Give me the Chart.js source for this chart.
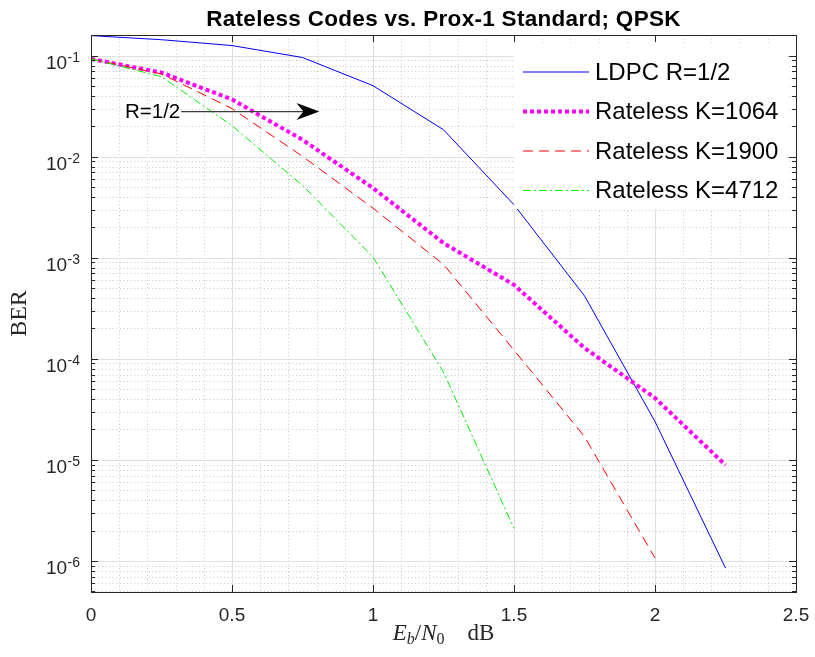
<!DOCTYPE html>
<html><head><meta charset="utf-8">
<script src="https://cdn.jsdelivr.net/npm/chart.js@4.4.0/dist/chart.umd.min.js"></script>
<style>html,body{margin:0;padding:0;background:#fff;}canvas{display:block}</style>
</head><body>
<canvas id="c" width="815" height="657"></canvas>
<script>
// ---------- data ----------
const ebn0 = [0, 0.25, 0.5, 0.75, 1, 1.25, 1.5, 1.75, 2, 2.25];
const berLDPC  = [0.158, 0.144, 0.126, 0.096, 0.0505, 0.0185, 0.00335, 4.2e-4, 2.4e-5, 8.5e-7];
const berK1064 = [0.093, 0.068, 0.037, 0.0147, 0.0049, 0.0014, 5.4e-4, 1.28e-4, 4.1e-5, 8.9e-6];
const berK1900 = [0.093, 0.066, 0.030, 0.0101, 0.0031, 8.6e-4, 1.22e-4, 1.7e-5, 1.07e-6];
const berK4712 = [0.093, 0.062, 0.0203, 0.0052, 0.00102, 7.4e-5, 2.1e-6];
const seriesLabels = ['LDPC R=1/2', 'Rateless K=1064', 'Rateless K=1900', 'Rateless K=4712'];
const xTicks = [0, 0.5, 1, 1.5, 2, 2.5];
const xTickLabels = ['0', '0.5', '1', '1.5', '2', '2.5'];
const yTickExps = [-1, -2, -3, -4, -5, -6];
const titleText = 'Rateless Codes vs. Prox-1 Standard; QPSK';
const yAxisLabel = 'BER';
const annotText = 'R=1/2';
const annotStartX = 0.32, annotEndX = 0.81, annotY = 0.028;
const xMin = 0, xMax = 2.5, yMin = 4.93e-7, yMax = 0.1603;

const toPts = (ys) => ys.map((v, i) => ({x: ebn0[i], y: v}));

const matlabPlugin = {
  id: 'matlabAxes',
  beforeDatasetsDraw(chart) {
    const {ctx, chartArea: a, scales: {x, y}} = chart;
    const ln = (x0, y0, x1, y1) => { ctx.beginPath(); ctx.moveTo(x0, y0); ctx.lineTo(x1, y1); ctx.stroke(); };
    ctx.save();
    ctx.fillStyle = '#fff';
    ctx.fillRect(a.left, a.top, a.right - a.left, a.bottom - a.top);
    // minor grids (dotted)
    ctx.strokeStyle = '#c8c8c8'; ctx.lineWidth = 1; ctx.setLineDash([1, 2.6]);
    for (let i = 1; i < 25; i++) {
      if (i % 5 === 0) continue;
      const px = Math.round(x.getPixelForValue(i / 10)) + 0.5;
      ln(px, a.top, px, a.bottom);
    }
    for (let e = -7; e <= 0; e++) for (let m = 2; m <= 9; m++) {
      const v = m * Math.pow(10, e);
      if (v < yMin || v > yMax) continue;
      const py = Math.round(y.getPixelForValue(v)) + 0.5;
      ln(a.left, py, a.right, py);
    }
    // major grids
    ctx.setLineDash([]); ctx.strokeStyle = '#dfdfdf';
    xTicks.forEach(v => { const px = Math.round(x.getPixelForValue(v)) + 0.5; ln(px, a.top, px, a.bottom); });
    yTickExps.forEach(e => { const py = Math.round(y.getPixelForValue(Math.pow(10, e))) + 0.5; ln(a.left, py, a.right, py); });
    ctx.restore();
  },
  afterDatasetsDraw(chart) {
    const {ctx, chartArea: a, scales: {x, y}} = chart;
    const ln = (x0, y0, x1, y1) => { ctx.beginPath(); ctx.moveTo(x0, y0); ctx.lineTo(x1, y1); ctx.stroke(); };
    ctx.save();
    // legend
    const lx = a.right - 282, ly = a.top + 8, lw = 273, lh = 166;
    ctx.fillStyle = '#fff';
    ctx.fillRect(lx, ly, lw, lh);
    ctx.font = '24px "Liberation Sans", Arial, sans-serif';
    ctx.textBaseline = 'middle'; ctx.textAlign = 'left';
    chart.data.datasets.forEach((ds, i) => {
      const cy = ly + 29 + i * 39.5;
      ctx.save();
      ctx.strokeStyle = ds.borderColor; ctx.lineWidth = ds.borderWidth;
      ctx.setLineDash(ds.borderDash || []);
      ctx.lineCap = 'butt';
      ln(lx + 9, cy, lx + 75, cy);
      ctx.restore();
      ctx.fillStyle = '#000';
      ctx.fillText(ds.label, lx + 81, cy + 1);
    });
    // annotation
    const ax0 = x.getPixelForValue(annotStartX), ax1 = x.getPixelForValue(annotEndX), ay = y.getPixelForValue(annotY);
    ctx.strokeStyle = '#3c3c3c'; ctx.lineWidth = 1.3;
    ln(ax0, ay, ax1 - 14, ay);
    ctx.fillStyle = '#000';
    ctx.beginPath();
    ctx.moveTo(ax1, ay); ctx.lineTo(ax1 - 23, ay - 8.5); ctx.lineTo(ax1 - 16, ay); ctx.lineTo(ax1 - 23, ay + 8.5);
    ctx.closePath(); ctx.fill();
    ctx.font = '20.5px "Liberation Sans", Arial, sans-serif';
    ctx.textAlign = 'right'; ctx.textBaseline = 'middle';
    ctx.fillStyle = '#000';
    ctx.fillText(annotText, ax0 - 1, ay + 1);
    // axes box and ticks
    ctx.strokeStyle = '#262626'; ctx.lineWidth = 1;
    ctx.strokeRect(Math.round(a.left) + 0.5, Math.round(a.top) + 0.5, Math.round(a.right - a.left), Math.round(a.bottom - a.top));
    xTicks.forEach(v => {
      const px = Math.round(x.getPixelForValue(v)) + 0.5;
      ln(px, a.bottom, px, a.bottom - 7);
      ln(px, a.top, px, a.top + 7);
    });
    for (let e = -7; e <= 0; e++) for (let m = 1; m <= 9; m++) {
      const v = m * Math.pow(10, e);
      if (v < yMin || v > yMax) continue;
      const py = Math.round(y.getPixelForValue(v)) + 0.5;
      const len = m === 1 ? 7 : 4;
      ln(a.left, py, a.left + len, py);
      ln(a.right, py, a.right - len, py);
    }
    // tick labels
    ctx.fillStyle = '#262626';
    ctx.textBaseline = 'alphabetic';
    ctx.font = '19px "Liberation Sans", Arial, sans-serif';
    ctx.textAlign = 'center';
    xTicks.forEach((v, i) => ctx.fillText(xTickLabels[i], x.getPixelForValue(v), a.bottom + 29));
    yTickExps.forEach(e => {
      const py = y.getPixelForValue(Math.pow(10, e));
      const sup = String(e);
      ctx.font = '14px "Liberation Sans", Arial, sans-serif';
      const sw = ctx.measureText(sup).width;
      const right = a.left - 11;
      ctx.textAlign = 'left';
      ctx.fillText(sup, right - sw, py + 6);
      ctx.font = '19px "Liberation Sans", Arial, sans-serif';
      ctx.textAlign = 'right';
      ctx.fillText('10', right - sw - 0.5, py + 12.8);
    });
    // title
    ctx.fillStyle = '#000';
    ctx.font = 'bold 22.5px "Liberation Sans", Arial, sans-serif';
    try { ctx.letterSpacing = '0.3px'; } catch (err) {}
    ctx.textAlign = 'center';
    ctx.fillText(titleText, (a.left + a.right) / 2, 26);
    try { ctx.letterSpacing = '0px'; } catch (err) {}
    // y label
    ctx.save();
    ctx.translate(20, (a.top + a.bottom) / 2);
    ctx.rotate(-Math.PI / 2);
    ctx.font = '24px "Liberation Serif", "Times New Roman", serif';
    ctx.textAlign = 'center'; ctx.textBaseline = 'middle';
    ctx.fillStyle = '#262626';
    ctx.fillText(yAxisLabel, 0, 0);
    ctx.restore();
    // x label: E_b/N_0  dB
    const parts = [
      {t: 'E', f: 'italic 23px "Liberation Serif", serif', dy: 0},
      {t: 'b', f: 'italic 16px "Liberation Serif", serif', dy: 4},
      {t: '/', f: '23px "Liberation Serif", serif', dy: 0},
      {t: 'N', f: 'italic 23px "Liberation Serif", serif', dy: 0},
      {t: '0', f: '16px "Liberation Serif", serif', dy: 4},
      {t: '\u2003dB', f: '23px "Liberation Serif", serif', dy: 0}
    ];
    let tot = 0;
    parts.forEach(p => { ctx.font = p.f; p.w = ctx.measureText(p.t).width; tot += p.w; });
    let cx = (a.left + a.right) / 2 - tot / 2;
    ctx.textAlign = 'left'; ctx.textBaseline = 'alphabetic'; ctx.fillStyle = '#262626';
    parts.forEach(p => { ctx.font = p.f; ctx.fillText(p.t, cx, 640 + p.dy); cx += p.w; });
    ctx.restore();
  }
};

new Chart(document.getElementById('c'), {
  type: 'line',
  data: {
    datasets: [
      {label: seriesLabels[0], data: toPts(berLDPC), borderColor: 'rgb(0,0,255)', borderWidth: 1, order: 4},
      {label: seriesLabels[1], data: toPts(berK1064), borderColor: 'rgb(255,0,255)', borderWidth: 4, borderDash: [4, 3], order: 3},
      {label: seriesLabels[2], data: toPts(berK1900), borderColor: 'rgb(255,0,0)', borderWidth: 1, borderDash: [10, 6], order: 2},
      {label: seriesLabels[3], data: toPts(berK4712), borderColor: 'rgb(0,240,0)', borderWidth: 1, borderDash: [8, 3, 2, 3], order: 1}
    ]
  },
  options: {
    responsive: false, animation: false,
    layout: {padding: {left: 91, top: 35, right: 19, bottom: 65}},
    elements: {point: {radius: 0}, line: {tension: 0, fill: false}},
    plugins: {legend: {display: false}, title: {display: false}, tooltip: {enabled: false}},
    scales: {
      x: {type: 'linear', min: xMin, max: xMax, display: false},
      y: {type: 'logarithmic', min: yMin, max: yMax, display: false}
    }
  },
  plugins: [matlabPlugin]
});
</script>
</body></html>
